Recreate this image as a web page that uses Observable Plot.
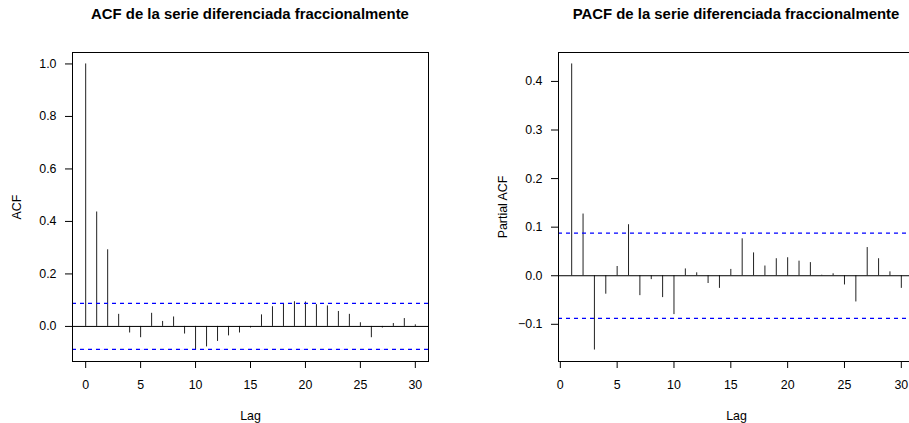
<!DOCTYPE html>
<html>
<head>
<meta charset="utf-8">
<script src="https://cdn.jsdelivr.net/npm/d3@7"></script>
<script src="https://cdn.jsdelivr.net/npm/@observablehq/plot@0.6"></script>
<style>
  html, body { margin: 0; padding: 0; background: #fff; }
  #wrap { position: relative; width: 909px; height: 423px; overflow: hidden; background: #fff;
          font-family: "Liberation Sans", Arial, Helvetica, sans-serif; color: #000; }
  .panel { position: absolute; top: 0; }
  .title { position: absolute; top: 6px; font-weight: bold; font-size: 14.9px; white-space: nowrap;
           transform: translateX(-50%); }
</style>
</head>
<body>
<div id="wrap"></div>
<script>
// ---- data ----
const acfTitle = "ACF de la serie diferenciada fraccionalmente";
const pacfTitle = "PACF de la serie diferenciada fraccionalmente";
const acfLags = d3.range(0, 31);
const acfValues = [1.000, 0.436, 0.292, 0.046, -0.025, -0.043, 0.050, 0.019, 0.036, -0.029,
  -0.090, -0.078, -0.057, -0.036, -0.025, -0.006, 0.044, 0.075, 0.085, 0.094,
  0.093, 0.083, 0.078, 0.057, 0.046, 0.014, -0.043, -0.006, 0.011, 0.030, 0.006];
const pacfLags = d3.range(1, 31);
const pacfValues = [0.436, 0.127, -0.153, -0.038, 0.019, 0.105, -0.041, -0.008, -0.045, -0.080,
  0.014, 0.006, -0.016, -0.026, 0.013, 0.076, 0.047, 0.020, 0.035, 0.037,
  0.030, 0.027, 0.001, 0.004, -0.019, -0.054, 0.058, 0.035, 0.008, -0.026];
const ciLevel = 0.0877;
const xTicks = [0, 5, 10, 15, 20, 25, 30];
const acfYTicks = [0, 0.2, 0.4, 0.6, 0.8, 1.0];
const pacfYTicks = [-0.1, 0, 0.1, 0.2, 0.3, 0.4];

function expand(lo, hi) { const p = (hi - lo) * 0.04; return [lo - p, hi + p]; }

function panel(lags, values, yTicks, yLabel, marginLeft) {
  const rows = lags.map((l, i) => ({lag: l, value: values[i]}));
  const xd = expand(d3.min(lags), d3.max(lags));
  const yd = expand(Math.min(d3.min(values), -ciLevel), Math.max(d3.max(values), ciLevel));
  return Plot.plot({
    width: 487, height: 423,
    marginLeft, marginRight: 487 - marginLeft - 356, marginTop: 52, marginBottom: 62,
    style: {fontFamily: "'Liberation Sans', Arial, Helvetica, sans-serif", fontSize: "12.4px",
            background: "transparent", color: "#000", overflow: "visible"},
    x: {domain: xd},
    y: {domain: yd},
    marks: [
      Plot.ruleX(rows, {x: "lag", y1: 0, y2: "value", stroke: "#222", strokeWidth: 1}),
      Plot.ruleY([0], {stroke: "#000", strokeWidth: 1}),
      Plot.ruleY([ciLevel, -ciLevel], {stroke: "#0000ff", strokeDasharray: "4 4", strokeWidth: 1.2}),
      Plot.frame({stroke: "#000", strokeWidth: 1}),
      Plot.axisX({ticks: xTicks, tickSize: 7, tickPadding: 12, tickFormat: d3.format("d"),
                  label: "Lag", labelAnchor: "center", labelOffset: 58, labelArrow: "none"}),
      Plot.axisY({ticks: yTicks, tickSize: 7, tickPadding: 9, tickFormat: d3.format(".1f"),
                  label: yLabel, labelAnchor: "center", labelOffset: 60, labelArrow: "none"})
    ]
  });
}

const wrap = document.getElementById("wrap");
const left = panel(acfLags, acfValues, acfYTicks, "ACF", 72);
left.classList.add("panel"); left.style.left = "0px";
wrap.appendChild(left);
const right = panel(pacfLags, pacfValues, pacfYTicks, "Partial ACF", 72);
right.classList.add("panel"); right.style.left = "486px";
wrap.appendChild(right);

const t1 = document.createElement("div"); t1.className = "title"; t1.textContent = acfTitle;
t1.style.left = "250px"; wrap.appendChild(t1);
const t2 = document.createElement("div"); t2.className = "title"; t2.textContent = pacfTitle;
t2.style.left = "736px"; wrap.appendChild(t2);
</script>
</body>
</html>
